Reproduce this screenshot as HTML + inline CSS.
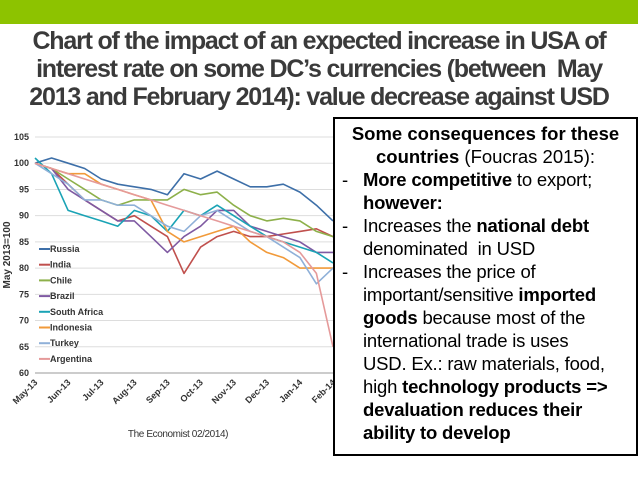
<!DOCTYPE html>
<html><head><meta charset="utf-8"><style>
body{margin:0;width:638px;height:479px;background:#fff;position:relative;overflow:hidden;font-family:"Liberation Sans",sans-serif}
#bar{position:absolute;left:0;top:0;width:638px;height:24px;background:#8dc300}
#title{position:absolute;left:0;top:27px;width:638px;text-align:center;font-weight:bold;font-size:25px;line-height:28px;color:#3a3a3a;letter-spacing:-1.2px}
#box{position:absolute;left:333px;top:117px;width:301px;height:335px;border:2px solid #000;background:#fff;font-size:18.5px;line-height:23px;color:#000}
.c{text-align:center;font-weight:normal}
.l{position:relative;padding-left:28px;white-space:nowrap;letter-spacing:-0.2px}
.d{position:absolute;left:7px}
b{font-weight:bold}
</style></head><body>
<div id="bar"></div>
<div id="title">Chart of the impact of an expected increase in USA of<br>interest rate on some DC’s currencies (between&nbsp; May<br>2013 and February 2014): value decrease against USD</div>
<svg id="chart" width="638" height="479" style="position:absolute;left:0;top:0"></svg>
<div id="box">
<div class="c" style="padding-top:3px"><b>Some consequences for these</b></div>
<div class="c"><b>countries</b> (Foucras 2015):</div>
<div class="l"><span class="d">-</span><b>More competitive</b> to export;</div>
<div class="l"><b>however:</b></div>
<div class="l"><span class="d">-</span>Increases the <b>national debt</b></div>
<div class="l">denominated&nbsp; in USD</div>
<div class="l"><span class="d">-</span>Increases the price of</div>
<div class="l">important/sensitive <b>imported</b></div>
<div class="l"><b>goods</b> because most of the</div>
<div class="l">international trade is uses</div>
<div class="l">USD. Ex.: raw materials, food,</div>
<div class="l">high <b>technology products =&gt;</b></div>
<div class="l"><b>devaluation reduces their</b></div>
<div class="l"><b>ability to develop</b></div>
</div>
<script>
const months=["May-13","Jun-13","Jul-13","Aug-13","Sep-13","Oct-13","Nov-13","Dec-13","Jan-14","Feb-14"];
const yTicks=[60,65,70,75,80,85,90,95,100,105];
const t=[0,0.5,1,1.5,2,2.5,3,3.5,4,4.5,5,5.5,6,6.5,7,7.5,8,8.5,9];
const seriesNames=["Russia","India","Chile","Brazil","South Africa","Indonesia","Turkey","Argentina"];
const seriesColors=["#3d6fa8","#c0504d","#8db04a","#7f5aa2","#1aa3b5","#f19a3a","#8fb0d8","#e59a9a"];
const russia=[100,101,100,99,97,96,95.5,95,94,98,97,98.5,97,95.5,95.5,96,94.5,92,89];
const india=[100,99,96,93,91,89,90,88,86,79,84,86,87,86,86,86.5,87,87.5,86];
const chile=[100,99,97,95,93,92,93,93,93,95,94,94.5,92,90,89,89.5,89,87,86];
const brazil=[100,99,95,93,91,89,89,86,83,86,88,91,91,88,87,86,85,83,83];
const southAfrica=[101,98,91,90,89,88,91,90,87,91,90,92,90,88,86,85,84,83,81];
const indonesia=[100,99,98,98,96,95,94,93,87,85,86,87,88,85,83,82,80,80,80];
const turkey=[100,98,96,93,93,92,92,90,88,87,90,91,89,87,86,84,82,77,80];
const argentina=[100,99,98,97,96,95,94,93,92,91,90,89,88,87,86,85,83,79,65];
const values=[russia,india,chile,brazil,southAfrica,indonesia,turkey,argentina];
const svg=document.getElementById('chart');const NS='http://www.w3.org/2000/svg';
const X0=35,X1=333,Y0=373,Y1=137;
const xs=m=>X0+(X1-X0)*m/9;
const ys=v=>Y0-(Y0-Y1)*(v-60)/45;
function mk(tag,a,txt){const e=document.createElementNS(NS,tag);for(const k in a)e.setAttribute(k,a[k]);if(txt!=null)e.textContent=txt;svg.appendChild(e);return e;}
yTicks.forEach(v=>{
const g=mk('line',{x1:X0,x2:X1,y1:ys(v),y2:ys(v),stroke:v==60?'#999':'#ddd','stroke-width':1});


const l=mk('text',{x:X0-6,y:ys(v)+3,'text-anchor':'end','font-size':9,'font-weight':'bold',fill:'#333'},v);


});
months.forEach((m,i)=>{
const x=xs(i);
const l=mk('text',{x:x+3,y:Y0+10,'text-anchor':'end','font-size':9,'font-weight':'bold',fill:'#333',transform:`rotate(-45 ${x+3} ${Y0+10})`},m);


});
const yt=mk('text',{x:10,y:255,'text-anchor':'middle','font-size':10,'font-weight':'bold',fill:'#333',transform:'rotate(-90 10 255)'},'May 2013=100');


values.forEach((vals,si)=>{
const d=vals.map((v,i)=>(i?'L':'M')+xs(t[i]).toFixed(1)+' '+ys(v).toFixed(1)).join(' ');
const p=mk('path',{d:d,fill:'none',stroke:seriesColors[si],'stroke-width':1.6,'stroke-linejoin':'round'});


});
seriesNames.forEach((n,i)=>{
const y=249+i*15.7;
const ln=mk('line',{x1:39,x2:50,y1:y,y2:y,stroke:seriesColors[i],'stroke-width':2});


const tx=mk('text',{x:50,y:y+3,'font-size':9,'font-weight':'bold',fill:'#333'},n);


});
const src=mk('text',{x:178,y:437,'text-anchor':'middle','font-size':10,fill:'#333','letter-spacing':'-0.4'},'The Economist 02/2014)');


</script>
</body></html>
